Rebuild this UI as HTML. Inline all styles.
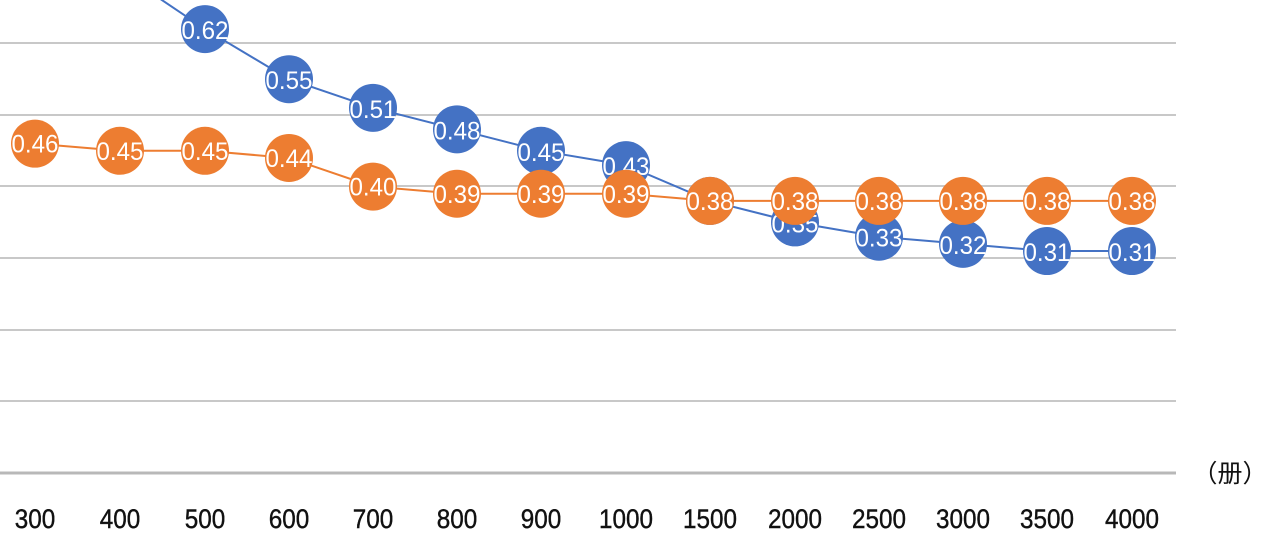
<!DOCTYPE html>
<html><head><meta charset="utf-8"><style>
html,body{margin:0;padding:0;background:#fff;width:1276px;height:541px;overflow:hidden}
text{font-family:"Liberation Sans","Noto Sans CJK SC",sans-serif}
</style></head><body>
<svg width="1276" height="541" viewBox="0 0 1276 541" xmlns="http://www.w3.org/2000/svg">
<g stroke="#c8c8c8" stroke-width="2">
<line x1="0" y1="43" x2="1176" y2="43"/><line x1="0" y1="115" x2="1176" y2="115"/>
<line x1="0" y1="186" x2="1176" y2="186"/><line x1="0" y1="258" x2="1176" y2="258"/>
<line x1="0" y1="330" x2="1176" y2="330"/><line x1="0" y1="401" x2="1176" y2="401"/>
</g>
<line x1="0" y1="473" x2="1176" y2="473" stroke="#b8b8b8" stroke-width="3"/>
<g id="c"></g>
<g font-size="27" fill="#111" text-anchor="middle" id="ticks" stroke="#111" stroke-width="0.4"></g>
<text x="1230" y="482" font-size="25" text-anchor="middle" fill="#111">（册）</text>
</svg>
<script>
var xs=[35,120,205,289,373,457,541,626,710,795,879,963,1047,1132];
var lab=[300,400,500,600,700,800,900,1000,1500,2000,2500,3000,3500,4000];
var blue=[0.78,0.70,0.62,0.55,0.51,0.48,0.45,0.43,0.38,0.35,0.33,0.32,0.31,0.31];
var orng=[0.46,0.45,0.45,0.44,0.40,0.39,0.39,0.39,0.38,0.38,0.38,0.38,0.38,0.38];
function y(v){return 473-v*716;}
var ns="http://www.w3.org/2000/svg",g=document.getElementById('c');
function el(t,a,p){var e=document.createElementNS(ns,t);for(var k in a)e.setAttribute(k,a[k]);(p||g).appendChild(e);return e;}
function series(d,col,skip,dy){
 var pts=d.map(function(v,i){return xs[i]+','+y(v)}).join(' ');
 el('polyline',{points:pts,fill:'none',stroke:col,'stroke-width':2});
 d.forEach(function(v,i){if(i<skip)return;
  el('circle',{cx:xs[i],cy:y(v),r:24,fill:col});
  var t=el('text',{x:xs[i],y:y(v)+9+dy,'font-size':25,fill:'#fff','text-anchor':'middle',textLength:47,lengthAdjust:'spacingAndGlyphs'});
  t.textContent=v.toFixed(2);});
}
series(blue,'#4472C4',2,1);
series(orng,'#ED7D31',0,0);
var tk=document.getElementById('ticks');
lab.forEach(function(l,i){var t=el('text',{x:xs[i],y:528,textLength:String(l).length*13.5,lengthAdjust:'spacingAndGlyphs'},tk);t.textContent=l;});
</script>
</body></html>
